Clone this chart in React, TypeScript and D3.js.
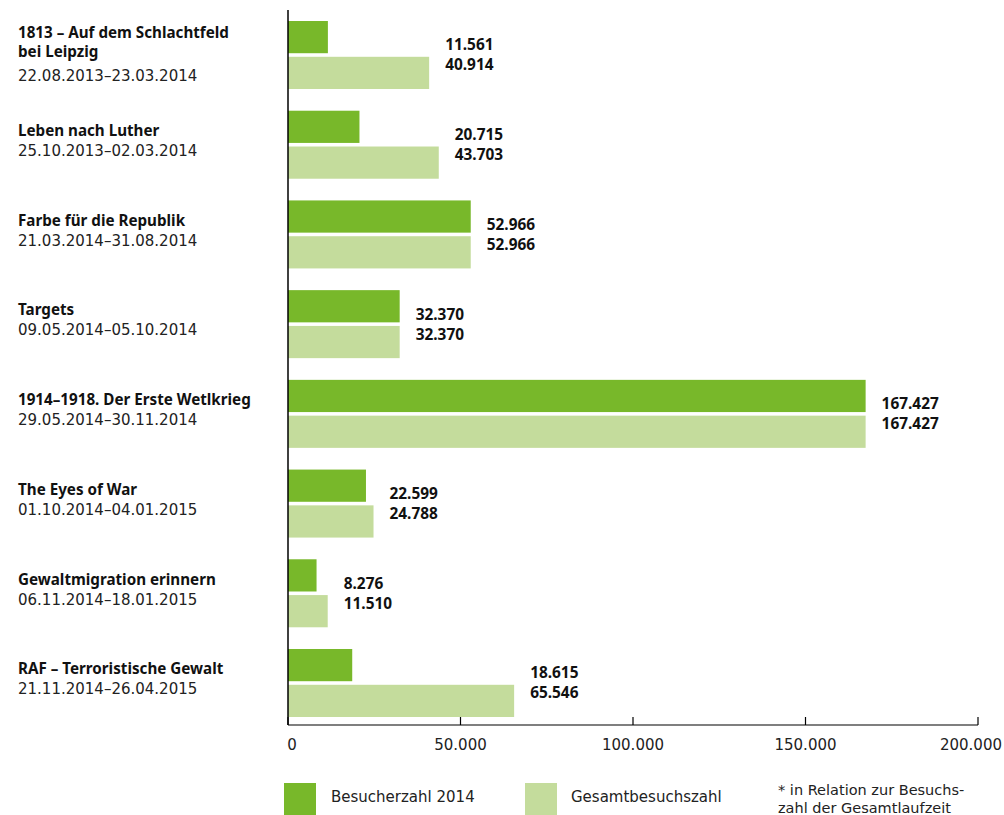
import * as d3 from "d3"
import { useEffect } from "react"

// exhibitions, top to bottom
const titles: string[][] = [
  ["1813 – Auf dem Schlachtfeld", "bei Leipzig"],
  ["Leben nach Luther"],
  ["Farbe für die Republik"],
  ["Targets"],
  ["1914–1918. Der Erste Wetlkrieg"],
  ["The Eyes of War"],
  ["Gewaltmigration erinnern"],
  ["RAF – Terroristische Gewalt"],
]
const dates = [
  "22.08.2013–23.03.2014",
  "25.10.2013–02.03.2014",
  "21.03.2014–31.08.2014",
  "09.05.2014–05.10.2014",
  "29.05.2014–30.11.2014",
  "01.10.2014–04.01.2015",
  "06.11.2014–18.01.2015",
  "21.11.2014–26.04.2015",
]
const visitors2014 = [11561, 20715, 52966, 32370, 167427, 22599, 8276, 18615]
const visitorsTotal = [40914, 43703, 52966, 32370, 167427, 24788, 11510, 65546]
const xTicks = [0, 50000, 100000, 150000, 200000]
const seriesNames = ["Besucherzahl 2014", "Gesamtbesuchszahl"]
const footnote = ["* in Relation zur Besuchs-", "zahl der Gesamtlaufzeit"]

const DARK = "#78b82a"
const LIGHT = "#c4dc9c"
const BOLD = "'Noto Sans', sans-serif"
const REG = "'DejaVu Sans', sans-serif"

const de = d3.formatLocale({ decimal: ",", thousands: ".", grouping: [3], currency: ["", "€"] })
const fmt = de.format(",d")

export default function App() {
  useEffect(() => {
    document.body.style.margin = "0"
  }, [])

  const width = 1004
  const height = 815
  const axisY = 725

  const x = d3.scaleLinear().domain([0, 200000]).range([288, 978])
  const ids = dates.map((_, i) => String(i))
  const y = d3.scaleBand().domain(ids).range([21, 717]).paddingInner(0.242).paddingOuter(0)
  const sub = d3.scaleBand().domain(["a", "b"]).range([0, y.bandwidth()]).paddingInner(0.1)

  return (
    <svg width={width} height={height} style={{ display: "block" }} fontFamily={REG}>
      {ids.map((id, i) => {
        const y0 = y(id)!
        const mid = y0 + y.bandwidth() / 2
        const lines = titles[i]
        const lh = 19.5
        const total = lines.length * lh + (lines.length > 1 ? 24 : 20)
        const top = mid - total / 2 + (lines.length > 1 ? 0 : -3)
        const end = Math.max(x(visitors2014[i]), x(visitorsTotal[i]))
        return (
          <g key={id}>
            <rect x={x(0)} y={y0 + sub("a")!} width={x(visitors2014[i]) - x(0)} height={sub.bandwidth()} fill={DARK} />
            <rect x={x(0)} y={y0 + sub("b")!} width={x(visitorsTotal[i]) - x(0)} height={sub.bandwidth()} fill={LIGHT} />
            {lines.map((t, j) => (
              <text key={j} x={18} y={top + j * lh + 14} fontFamily={BOLD} fontSize={15.2} fontWeight="bold" fill="#111">
                {t}
              </text>
            ))}
            <text x={18} y={top + (lines.length - 1) * lh + (lines.length > 1 ? 24 : 20) + 14} fontSize={15} fill="#222">
              {dates[i]}
            </text>
            <text x={end + 16} y={mid - 10} dy="0.35em" fontFamily={BOLD} fontSize={15.4} fontWeight="bold" fill="#111">
              {fmt(visitors2014[i])}
            </text>
            <text x={end + 16} y={mid + 10} dy="0.35em" fontFamily={BOLD} fontSize={15.4} fontWeight="bold" fill="#111">
              {fmt(visitorsTotal[i])}
            </text>
          </g>
        )
      })}

      {/* axes */}
      <line x1={x(0)} x2={x(0)} y1={10} y2={axisY} stroke="#000" strokeWidth={1.5} />
      <line x1={x(0)} x2={x(200000)} y1={axisY} y2={axisY} stroke="#000" strokeWidth={1.2} />
      {xTicks.map((t, k) => {
        const last = k === xTicks.length - 1
        return (
          <g key={t}>
            <line x1={x(t)} x2={x(t)} y1={axisY - 8} y2={axisY} stroke="#000" strokeWidth={1.2} />
            <text
              x={last ? width - 2 : x(t) + (t === 0 ? 4 : 0)}
              y={axisY + 20}
              dy="0.35em"
              textAnchor={last ? "end" : "middle"}
              fontSize={15}
              fill="#222"
            >
              {fmt(t)}
            </text>
          </g>
        )
      })}

      {/* legend */}
      <rect x={284} y={783} width={32} height={32} fill={DARK} />
      <text x={331} y={797} dy="0.35em" fontSize={15} fill="#222">{seriesNames[0]}</text>
      <rect x={525} y={783} width={32} height={32} fill={LIGHT} />
      <text x={571} y={797} dy="0.35em" fontSize={15} fill="#222">{seriesNames[1]}</text>
      {footnote.map((f, j) => (
        <text key={j} x={778} y={790 + j * 18} dy="0.35em" fontSize={14.5} fill="#222">{f}</text>
      ))}
    </svg>
  )
}
